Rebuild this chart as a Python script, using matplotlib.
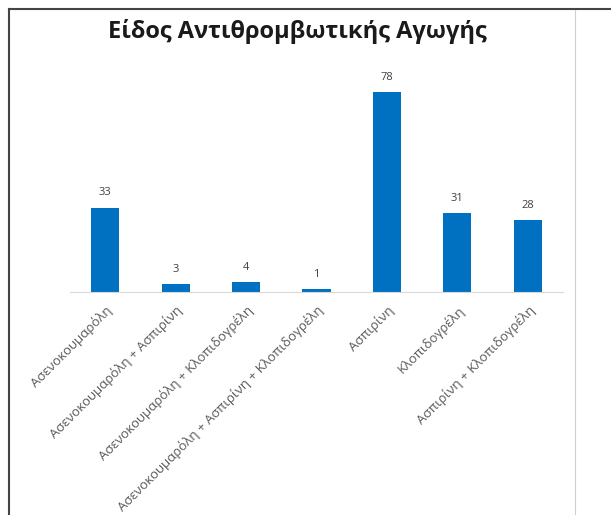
import matplotlib
matplotlib.use("Agg")
import matplotlib.pyplot as plt
from matplotlib.lines import Line2D

categories = [
    "Ασενοκουμαρόλη",
    "Ασενοκουμαρόλη + Ασπιρίνη",
    "Ασενοκουμαρόλη + Κλοπιδογρέλη",
    "Ασενοκουμαρόλη + Ασπιρίνη + Κλοπιδογρέλη",
    "Ασπιρίνη",
    "Κλοπιδογρέλη",
    "Ασπιρίνη + Κλοπιδογρέλη",
]
values = [33, 3, 4, 1, 78, 31, 28]
title = "Είδος Αντιθρομβωτικής Αγωγής"

plt.rcParams['font.family'] = ['Open Sans', 'DejaVu Sans']

W, H = 611, 515
fig = plt.figure(figsize=(W / 100, H / 100), dpi=100)

# axes placed in pixel terms: baseline at y=292, spans x 70..563
ax = fig.add_axes([70 / W, 1 - 292 / H, 493 / W, 217.6 / H])
x = list(range(len(categories)))
bars = ax.bar(x, values, width=0.4, color='#0070C0')
ax.set_xlim(-0.5, len(categories) - 0.5)
ax.set_ylim(0, 85)

for b, v in zip(bars, values):
    ax.annotate(str(v), (b.get_x() + b.get_width() / 2, b.get_height()),
                xytext=(0, 6.5), textcoords='offset points', ha='center',
                va='bottom', fontsize=8, color='#404040')

ax.set_xticks(x)
ax.set_xticklabels(categories, rotation=45, ha='right', rotation_mode='anchor',
                   fontsize=9.5, color='#595959')
ax.tick_params(axis='x', length=0, pad=8)
ax.set_yticks([])
for s in ['top', 'right', 'left']:
    ax.spines[s].set_visible(False)
ax.spines['bottom'].set_color('#D9D9D9')

fig.text(297 / W, 1 - 31 / H, title, ha='center', va='center',
         fontsize=17, fontweight='bold', color='#1a1a1a')

# frame lines
fig.add_artist(Line2D([9 / W, 1], [1 - 9 / H, 1 - 9 / H], color='#444444', lw=1.5))
fig.add_artist(Line2D([9 / W, 9 / W], [0, 1 - 9 / H], color='#444444', lw=1.5))
fig.add_artist(Line2D([575 / W, 575 / W], [0, 1 - 10 / H], color='#D0D0D0', lw=0.8))

fig.savefig("out.png", dpi=100)
